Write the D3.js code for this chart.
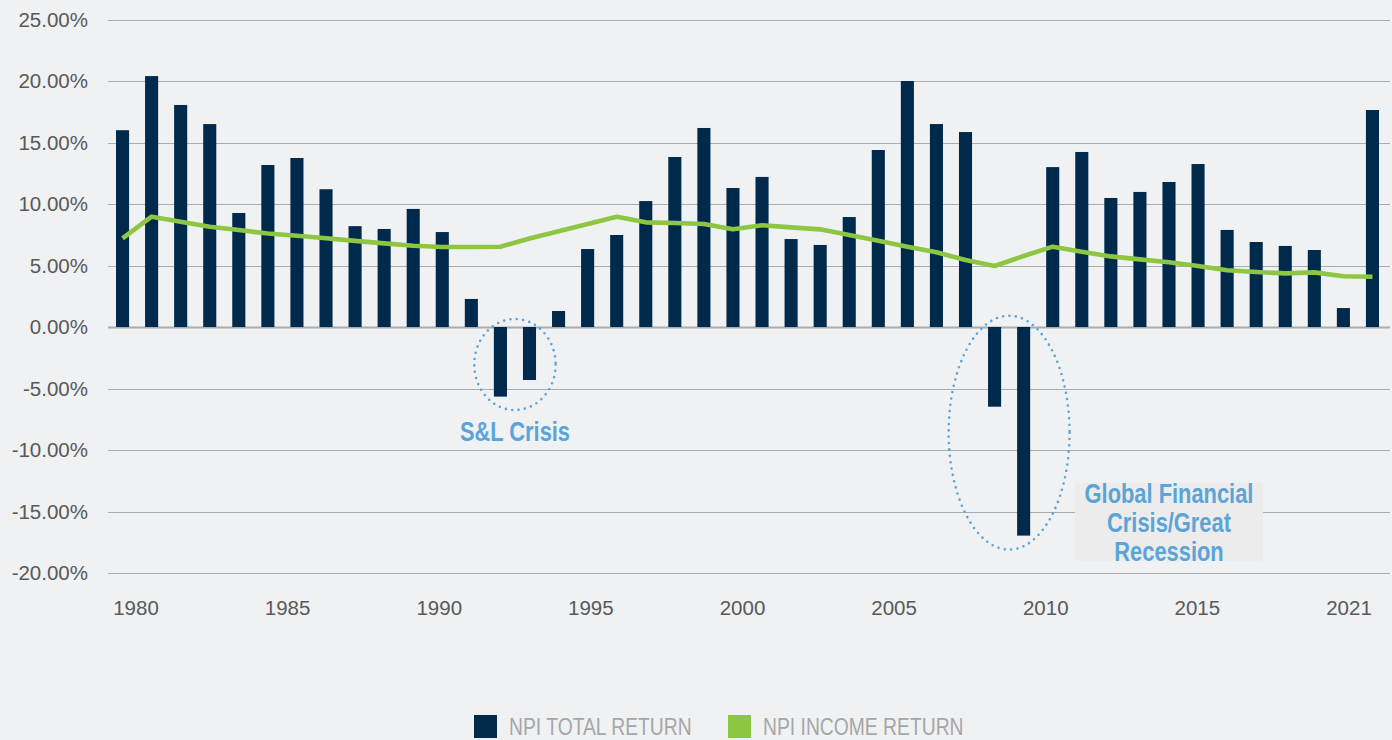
<!DOCTYPE html>
<html>
<head>
<meta charset="utf-8">
<script src="https://cdn.jsdelivr.net/npm/d3@7"></script>
<style>
  html, body { margin: 0; padding: 0; background: #f0f1f3; }
  svg { display: block; }
</style>
</head>
<body>
<div id="chartArea"></div>
<script>
// NPI total return (bars) vs income return (line), 1978 - 2021

var years = d3.range(1978, 2022);

var totalReturn = [
  16.0, 20.4, 18.05, 16.5, 9.27, 13.17, 13.74, 11.2, 8.2, 7.97,
  9.6, 7.72, 2.28, -5.66, -4.31, 1.3, 6.34, 7.48, 10.24, 13.82,
  16.18, 11.3, 12.2, 7.15, 6.67, 8.94, 14.39, 20.0, 16.5, 15.85,
  -6.48, -16.96, 13.0, 14.23, 10.49, 10.98, 11.79, 13.25, 7.89, 6.91,
  6.59, 6.26, 1.54, 17.64
];

var incomeReturn = [
  7.2, 8.97, 8.56, 8.15, 7.89, 7.6, 7.42, 7.21, 7.0, 6.8,
  6.61, 6.5, 6.5, 6.53, 7.2, 7.79, 8.38, 8.97, 8.51, 8.46,
  8.37, 7.94, 8.27, 8.1, 7.94, 7.48, 7.02, 6.53, 6.07, 5.45,
  4.96, 5.77, 6.53, 6.12, 5.74, 5.5, 5.26, 4.96, 4.61, 4.47,
  4.36, 4.44, 4.12, 4.09
];

var yTicks = [-20, -15, -10, -5, 0, 5, 10, 15, 20, 25];
var tickLabels = ["1980", "1985", "1990", "1995", "2000", "2005", "2010", "2015", "2021"];

var seriesNames = ["NPI TOTAL RETURN", "NPI INCOME RETURN"];

// crisis call-outs: years circled, top/bottom of circle in % and label lines
var crises = [
  { years: [1991, 1992], top: 0.65, bottom: -6.75, lines: ["S&L Crisis"], labelYear: 1991.5, labelY: -9.3, box: false },
  { years: [2008, 2009], top: 0.92, bottom: -18.1, lines: ["Global Financial", "Crisis/Great", "Recession"], labelYear: 2014, labelY: -14.3, box: true }
];

(function() {

    var width = 1392,
        height = 740;

    var navy = "#002a4c",
        green = "#8dc641",
        calloutBlue = "#5ba4d7";

    // no narrow font installed - squeeze Liberation Sans sideways instead
    var narrow = 0.81,
        legendNarrow = 0.84;

    var svg = d3.select("#chartArea").append("svg")
        .attr("width", width)
        .attr("height", height);

    // 1. scales
    var x = d3.scaleBand()
        .domain(years)
        .range([108, 1387])
        .paddingInner(0.55)
        .paddingOuter(0.275);

    var y = d3.scaleLinear()
        .domain([-20, 25])
        .range([573, 19.5]);

    // year labels are spread evenly under the chart, not tied to the bars
    var xLabel = d3.scalePoint()
        .domain(tickLabels)
        .range([136, 1349]);

    var cx = function(yr) { return x(yr) + x.bandwidth() / 2; };

    // 2. grid + y labels
    var grid = svg.append("g");
    grid.selectAll("line")
        .data(yTicks)
        .enter().append("line")
        .attr("x1", 108)
        .attr("x2", 1390)
        .attr("y1", function(d) { return Math.round(y(d)) + 0.5; })
        .attr("y2", function(d) { return Math.round(y(d)) + 0.5; })
        .attr("stroke", "#acacac")
        .attr("stroke-width", function(d) { return d === 0 ? 2 : 1; });

    svg.append("g")
        .selectAll("text")
        .data(yTicks)
        .enter().append("text")
        .attr("x", 88)
        .attr("y", function(d) { return y(d); })
        .attr("dy", "0.36em")
        .attr("text-anchor", "end")
        .attr("font-family", "Liberation Sans, Arial, sans-serif")
        .attr("font-size", "20.5px")
        .attr("fill", "#595959")
        .text(function(d) { return d.toFixed(2) + "%"; });

    // x labels
    svg.append("g")
        .selectAll("text")
        .data(tickLabels)
        .enter().append("text")
        .attr("x", function(d) { return xLabel(d); })
        .attr("y", 608)
        .attr("dy", "0.36em")
        .attr("text-anchor", "middle")
        .attr("font-family", "Liberation Sans, Arial, sans-serif")
        .attr("font-size", "20.5px")
        .attr("fill", "#595959")
        .text(function(d) { return d; });

    // 3. bars
    svg.append("g")
        .selectAll("rect")
        .data(totalReturn)
        .enter().append("rect")
        .attr("x", function(d, i) { return x(years[i]); })
        .attr("width", x.bandwidth())
        .attr("y", function(d) { return y(Math.max(0, d)); })
        .attr("height", function(d) { return Math.abs(y(d) - y(0)); })
        .attr("fill", navy);

    // 4. income line
    var line = d3.line()
        .x(function(d, i) { return cx(years[i]); })
        .y(function(d) { return y(d); });

    svg.append("path")
        .datum(incomeReturn)
        .attr("d", line)
        .attr("fill", "none")
        .attr("stroke", green)
        .attr("stroke-width", 4.6)
        .attr("stroke-linejoin", "round");

    // 5. call-outs
    crises.forEach(function(c) {
        var x0 = cx(c.years[0]), x1 = cx(c.years[1]);
        var rx = (x1 - x0) / 2 + x.step() * (c.box ? 1.58 : 0.9);
        svg.append("ellipse")
            .attr("cx", (x0 + x1) / 2)
            .attr("cy", (y(c.top) + y(c.bottom)) / 2)
            .attr("rx", rx)
            .attr("ry", (y(c.bottom) - y(c.top)) / 2)
            .attr("fill", "none")
            .attr("stroke", calloutBlue)
            .attr("stroke-width", 2.6)
            .attr("stroke-linecap", "round")
            .attr("stroke-dasharray", "0 6.4");

        var lx = c.labelYear % 1 ? (cx(Math.floor(c.labelYear)) + cx(Math.ceil(c.labelYear))) / 2 : cx(c.labelYear);
        var ly = y(c.labelY);
        var lh = 29;

        if (c.box) {
            svg.append("rect")
                .attr("x", lx - 94)
                .attr("y", ly - 20)
                .attr("width", 188)
                .attr("height", 78)
                .attr("fill", "#ececec");
        }

        svg.append("g")
            .attr("transform", "translate(" + lx + "," + ly + ") scale(" + narrow + ",1)")
            .selectAll("text")
            .data(c.lines)
            .enter().append("text")
            .attr("x", 0)
            .attr("y", function(d, i) { return i * lh; })
            .attr("text-anchor", "middle")
            .attr("font-family", "Liberation Sans, Arial, sans-serif")
            .attr("font-weight", "bold")
            .attr("font-size", "27px")
            .attr("fill", calloutBlue)
            .text(function(d) { return d; });
    });

    // 6. legend
    var legend = svg.append("g");
    var legendX = [474, 728];
    var legendColors = [navy, green];

    seriesNames.forEach(function(name, i) {
        legend.append("rect")
            .attr("x", legendX[i])
            .attr("y", 715)
            .attr("width", 23)
            .attr("height", 23)
            .attr("fill", legendColors[i]);
        legend.append("text")
            .attr("transform", "translate(" + (legendX[i] + 35) + ",726.5) scale(" + legendNarrow + ",1)")
            .attr("dy", "0.36em")
            .attr("font-family", "Liberation Sans, Arial, sans-serif")
            .attr("font-size", "23px")
            .attr("fill", "#a6a6a6")
            .text(name);
    });

})()
</script>
</body>
</html>
